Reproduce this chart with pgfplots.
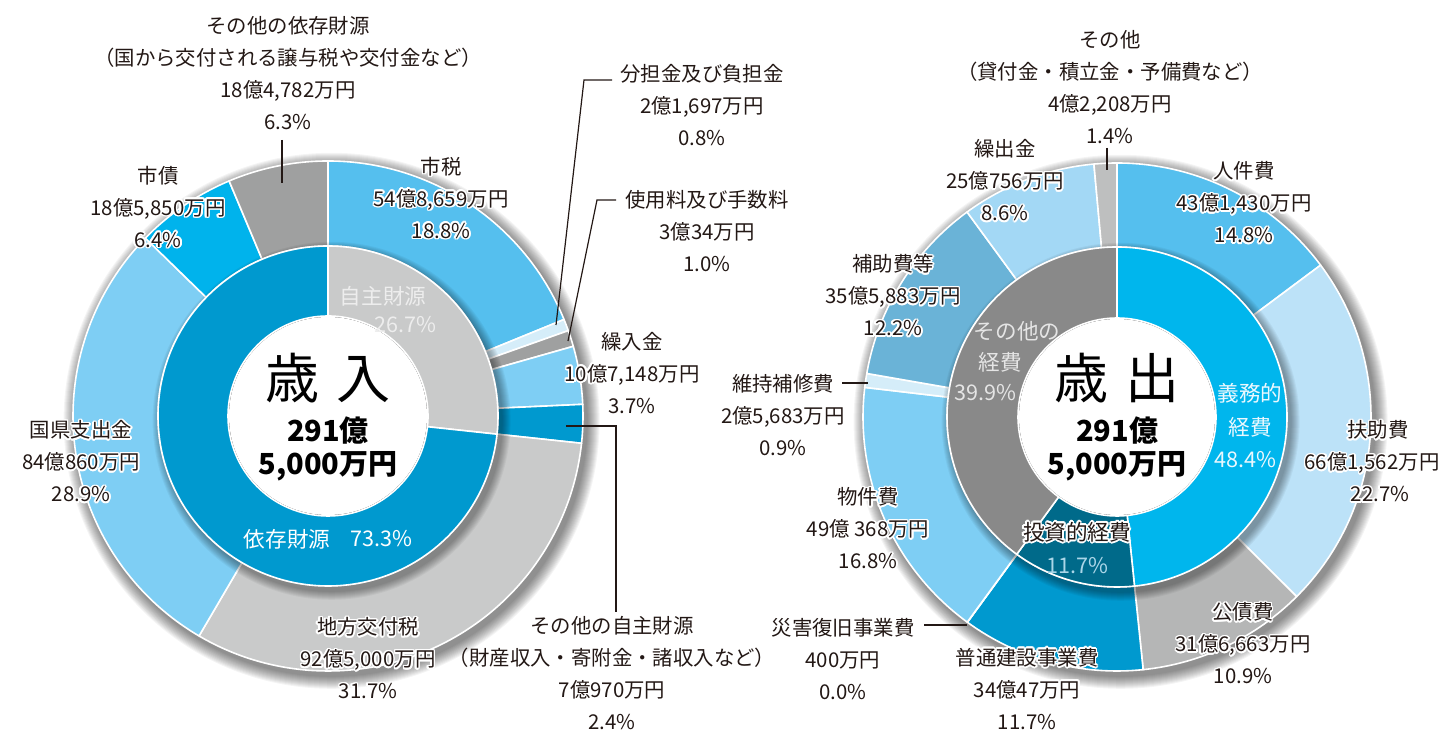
\documentclass[border=0pt]{standalone}
\usepackage{pgfplots}
\pgfplotsset{compat=1.18}
\usepackage{pgfplotstable}
\usepackage{fontspec}
\setmainfont{Noto Sans CJK JP}
\usepackage{contour}
\contourlength{0.8pt}
\contournumber{16}

\definecolor{cSky}{HTML}{55BFEE}
\definecolor{cPale}{HTML}{D5EDF9}
\definecolor{cGray}{HTML}{9FA0A0}
\definecolor{cLight}{HTML}{7ECEF4}
\definecolor{cBlue}{HTML}{0099CF}
\definecolor{cLGray}{HTML}{C9CACA}
\definecolor{cCyan}{HTML}{00B3EC}
\definecolor{cFujo}{HTML}{BCE2F8}
\definecolor{cKosai}{HTML}{B5B6B6}
\definecolor{cHojo}{HTML}{6AB3D7}
\definecolor{cKuri}{HTML}{A3D8F5}
\definecolor{cSonota}{HTML}{BEBFBF}
\definecolor{cGimu}{HTML}{00B6ED}
\definecolor{cToshi}{HTML}{006A8A}
\definecolor{cOther}{HTML}{898989}
\definecolor{txt}{HTML}{231815}

% values in 億円 (total 291.5)
\pgfplotstableread{
value color
54.8659 cSky
2.1697 cPale
3.0034 cGray
10.7148 cLight
7.0970 cBlue
92.5000 cLGray
84.0860 cLight
18.5850 cCyan
18.4782 cGray
}\revOuter
\pgfplotstableread{
value color
77.8508 cLGray
213.6492 cBlue
}\revInner
\pgfplotstableread{
value color
43.1430 cSky
66.1562 cFujo
31.6663 cKosai
34.0047 cBlue
0.0400 cBlue
49.0368 cLight
2.5683 cPale
35.5883 cHojo
25.0756 cKuri
4.2208 cSonota
}\expOuter
\pgfplotstableread{
value color
140.9655 cGimu
34.0447 cToshi
116.4898 cOther
}\expInner

\newcommand{\donut}[5]{% table, cx, cy, r_in(px), r_out(px)
  \pgfplotstablegetrowsof{#1}\pgfmathtruncatemacro\N{\pgfplotsretval-1}%
  \pgfmathsetmacro\ri{#4*0.5}\pgfmathsetmacro\ro{#5*0.5}%
  \gdef\curang{90}%
  \begin{scope}[shift={(axis cs:#2,#3)}]
  \foreach \i in {0,...,\N}{%
    \pgfplotstablegetelem{\i}{value}\of{#1}\let\v\pgfplotsretval
    \pgfplotstablegetelem{\i}{color}\of{#1}\let\c\pgfplotsretval
    \pgfmathsetmacro\aa{\curang}%
    \pgfmathsetmacro\bb{\curang-\v/291.5*360}%
    \filldraw[fill=\c, draw=white, line width=0.8pt, line join=round]
      (\aa:\ri pt) arc[start angle=\aa, end angle=\bb, radius=\ri pt]
      -- (\bb:\ro pt) arc[start angle=\bb, end angle=\aa, radius=\ro pt] -- cycle;
    \xdef\curang{\bb}%
  }
  \end{scope}
}
\newcommand{\shadow}[4]{% cx, cy, r(px), spread
  \begin{scope}[shift={(axis cs:#1,#2)}]
  \foreach \k in {1,...,#4}{%
    \pgfmathsetmacro\rr{(#3+\k)*0.5}%
    \fill[black, opacity=0.045] (1.8pt,-2.4pt) circle[radius=\rr pt];
  }
  \end{scope}
}
\newcommand\h[1]{\contour{white}{#1}}
\newcommand\lab[3]{\node[font=\fontsize{10.2pt}{16pt}\selectfont, align=center, text=txt, inner sep=0pt] at (axis cs:#1,-#2) {#3};}

\begin{document}
\begin{tikzpicture}
\begin{axis}[hide axis, x=0.5pt, y=0.5pt, xmin=0, xmax=1440, ymin=-731, ymax=0, clip=false]
\coordinate (BL) at (axis cs:0,-731);
\coordinate (TR) at (axis cs:1440,0);
\pgfplotsextra{
  \shadow{328}{-416}{255}{13}
  \donut{\revOuter}{328}{-416}{170}{255}
  \shadow{328}{-416}{170}{9}
  \donut{\revInner}{328}{-416}{100}{170}
  \fill[white] (axis cs:328,-416) circle[radius=49.5pt];
  \shadow{1117}{-417}{254}{13}
  \donut{\expOuter}{1117}{-417}{170}{254}
  \shadow{1117}{-417}{170}{9}
  \donut{\expInner}{1117}{-417}{99}{170}
  \fill[white] (axis cs:1117,-417) circle[radius=49pt];
}
% leader lines
\draw[line width=0.6pt, txt] (axis cs:282,-140) -- (axis cs:282,-183);
\draw[line width=0.6pt, txt] (axis cs:612,-80) -- (axis cs:584,-80) -- (axis cs:556,-325);
\draw[line width=0.6pt, txt] (axis cs:616,-200) -- (axis cs:597,-200) -- (axis cs:568,-341);
\draw[line width=0.6pt, txt] (axis cs:566,-426) -- (axis cs:616,-426) -- (axis cs:616,-612);
\draw[line width=0.6pt, txt] (axis cs:1107,-148) -- (axis cs:1107,-170);
\draw[line width=0.6pt, txt] (axis cs:842,-383) -- (axis cs:868,-383);
\draw[line width=0.6pt, txt] (axis cs:924,-625) -- (axis cs:967,-625);
% left labels
\lab{288}{73}{その他の依存財源\\（国から交付される譲与税や交付金など）\\18億4,782万円\\6.3\%}
\lab{158}{207.5}{\h{市債}\\\h{18億5,850万円}\\\h{6.4\%}}
\lab{441}{198.5}{\h{市税}\\\h{54億8,659万円}\\\h{18.8\%}}
\lab{702}{105.5}{分担金及び負担金\\2億1,697万円\\0.8\%}
\lab{707}{231.5}{使用料及び手数料\\3億34万円\\1.0\%}
\lab{632}{373}{繰入金\\\h{10億7,148万円}\\3.7\%}
\lab{612}{673}{その他の自主財源\\（財産収入・寄附金・諸収入など）\\7億970万円\\2.4\%}
\lab{368}{659}{\h{地方交付税}\\\h{92億5,000万円}\\\h{31.7\%}}
\lab{81}{462}{\h{国県支出金}\\\h{84億860万円}\\\h{28.9\%}}
% right labels
\lab{1110}{87}{その他\\（貸付金・積立金・予備費など）\\4億2,208万円\\1.4\%}
\lab{1005}{181}{\h{繰出金}\\\h{25億756万円}\\\h{8.6\%}}
\lab{1244}{203}{\h{人件費}\\\h{43億1,430万円}\\\h{14.8\%}}
\lab{893}{296}{\h{補助費等}\\\h{35億5,883万円}\\\h{12.2\%}}
\lab{783}{415}{維持補修費\\2億5,683万円\\0.9\%}
\lab{1372}{462}{\h{\hspace*{6pt}扶助費}\\\h{66億1,562万円}\\\h{\hspace*{8pt}22.7\%}}
\lab{868}{529}{\h{物件費}\\\h{49億 368万円}\\\h{16.8\%}}
\lab{843}{659}{災害復旧事業費\\400万円\\0.0\%}
\lab{1027}{689}{\h{普通建設事業費}\\\h{34億47万円}\\11.7\%}
\lab{1243}{644}{\h{公債費}\\\h{31億6,663万円}\\\h{10.9\%}}
% centre texts
\node[font=\fontsize{27pt}{30pt}\selectfont, text=black] at (axis cs:328,-378) {歳\hspace{0.3em}入};
\node[font=\bfseries\fontsize{14.5pt}{16pt}\selectfont, text=black] at (axis cs:328,-431) {291億};
\node[font=\bfseries\fontsize{14.5pt}{16pt}\selectfont, text=black] at (axis cs:328,-466) {5,000万円};
\node[font=\fontsize{27pt}{30pt}\selectfont, text=black] at (axis cs:1117,-378) {歳\hspace{0.3em}出};
\node[font=\bfseries\fontsize{14.5pt}{16pt}\selectfont, text=black] at (axis cs:1117,-431) {291億};
\node[font=\bfseries\fontsize{14.5pt}{16pt}\selectfont, text=black] at (axis cs:1117,-466) {5,000万円};
% inner ring labels
\node[font=\fontsize{10.8pt}{13pt}\selectfont, text=white!93!black] at (axis cs:383,-296) {自主財源};
\node[font=\fontsize{10.8pt}{13pt}\selectfont, text=white!93!black] at (axis cs:405,-325) {26.7\%};
\node[font=\fontsize{10.8pt}{13pt}\selectfont, text=white] at (axis cs:287,-539) {依存財源};
\node[font=\fontsize{10.8pt}{13pt}\selectfont, text=white] at (axis cs:381,-539) {73.3\%};
\node[font=\fontsize{10.8pt}{13pt}\selectfont, text=white!92!cyan] at (axis cs:1250,-393) {義務的};
\node[font=\fontsize{10.8pt}{13pt}\selectfont, text=white!92!cyan] at (axis cs:1250,-427) {経費};
\node[font=\fontsize{10.8pt}{13pt}\selectfont, text=white!92!cyan] at (axis cs:1245,-460) {48.4\%};
\node[font=\fontsize{10.8pt}{13pt}\selectfont, text=white!90!black] at (axis cs:1017,-331) {その他の};
\node[font=\fontsize{10.8pt}{13pt}\selectfont, text=white!90!black] at (axis cs:1000,-362) {経費};
\node[font=\fontsize{10.8pt}{13pt}\selectfont, text=white!90!black] at (axis cs:985,-393) {39.9\%};
\node[font=\fontsize{10.8pt}{13pt}\selectfont, text=txt] at (axis cs:1077,-533) {\h{投資的経費}};
\node[font=\fontsize{10.8pt}{13pt}\selectfont, text={rgb,255:red,170;green,214;blue,232}] at (axis cs:1077,-566) {11.7\%};
\end{axis}
\pgfresetboundingbox
\path (BL) rectangle (TR);
\end{tikzpicture}
\end{document}
